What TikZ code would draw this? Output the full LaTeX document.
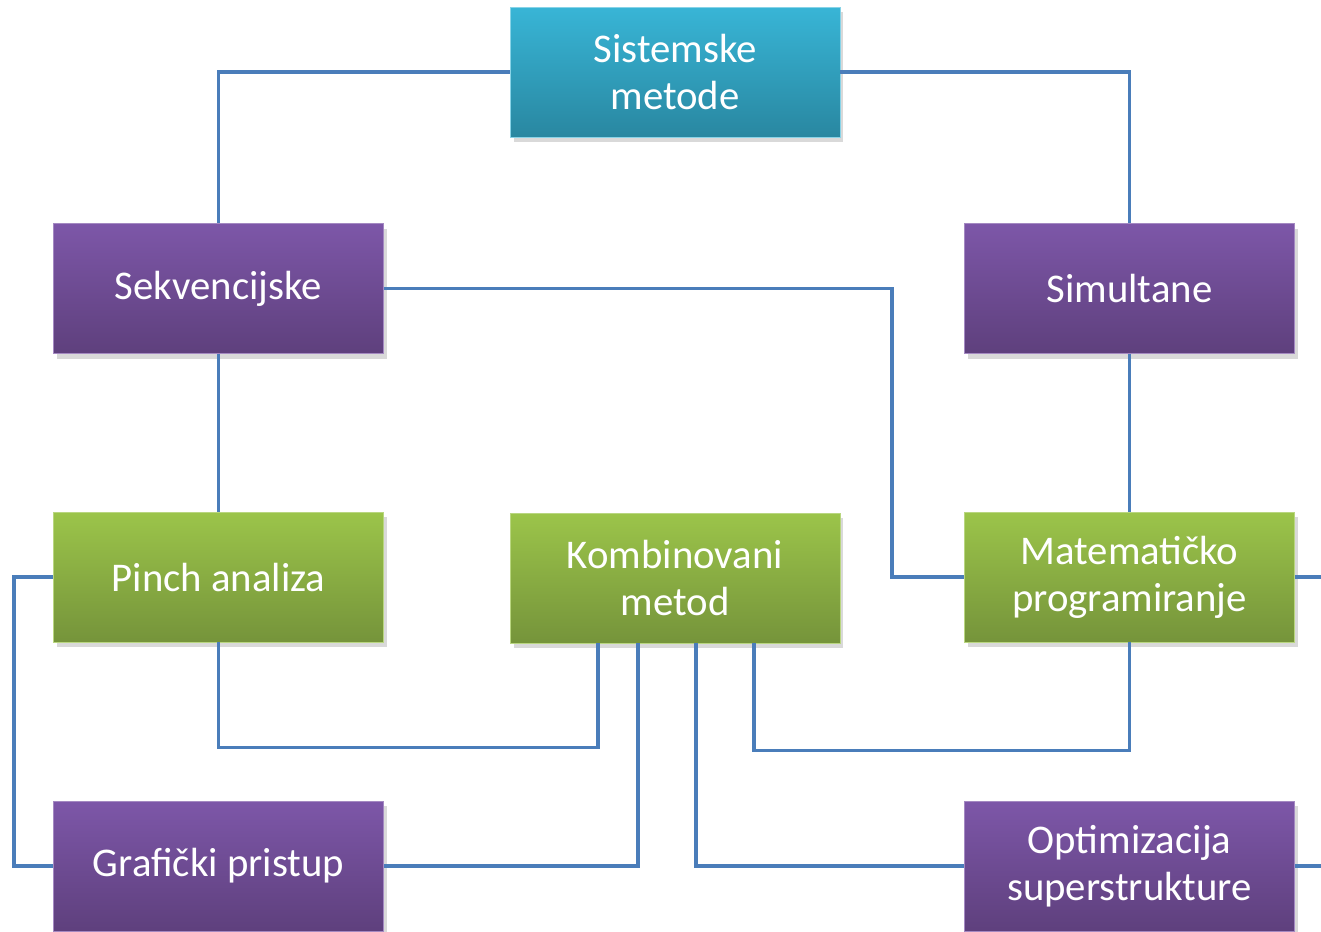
\documentclass[tikz,border=0pt]{standalone}
\usepackage{fontspec}
\setmainfont{Carlito}
\usetikzlibrary{shadows,calc}
\definecolor{cyantop}{rgb}{0.22,0.71,0.84}
\definecolor{cyanbot}{rgb}{0.16,0.53,0.63}
\definecolor{purtop}{rgb}{0.49,0.34,0.66}
\definecolor{purbot}{rgb}{0.37,0.25,0.49}
\definecolor{grntop}{rgb}{0.61,0.77,0.29}
\definecolor{grnbot}{rgb}{0.46,0.58,0.23}
\definecolor{linkblue}{rgb}{0.29,0.49,0.73}
\tikzset{
	box/.style={rectangle, minimum width=6.6cm, minimum height=2.6cm, align=center, text=white,
		font=\fontsize{23.2}{26.7}\selectfont, line width=0.5pt,
		drop shadow={shadow xshift=2pt, shadow yshift=-3pt, opacity=0.3}},
	sysbox/.style={box, top color=cyantop, bottom color=cyanbot, draw=cyantop!60!white},
	purbox/.style={box, top color=purtop, bottom color=purbot, draw=purtop!70!white},
	grnbox/.style={box, top color=grntop, bottom color=grnbot, draw=grntop!70!white},
	link/.style={draw=linkblue, line width=1.9pt}
}
\begin{document}
\begin{tikzpicture}[x=0.02cm, y=-0.02cm]
			\useasboundingbox (0,0) rectangle (1321,932);
			\clip (0,0) rectangle (1321,932);
			\node [sysbox] (sis) at (675,72) {Sistemske\\metode};
			\node [purbox] (sek) at (218.5,288.5) {Sekvencijske};
			\node [purbox] (sim) at (1129.5,288.5) {Simultane};
			\node [grnbox] (pin) at (218.5,577) {Pinch analiza};
			\node [grnbox] (kom) at (675,578) {Kombinovani\\metod};
			\node [grnbox] (mat) at (1129.5,577) {Matematičko\\programiranje};
			\node [purbox] (gra) at (218.5,866) {Grafički pristup};
			\node [purbox] (opt) at (1129.5,866) {Optimizacija\\superstrukture};
			\coordinate (sekbend) at (892,288.5);
			\coordinate (k1) at ($(kom.south)+(-77,0)$);
			\coordinate (k2) at ($(kom.south)+(-37,0)$);
			\coordinate (k3) at ($(kom.south)+(21,0)$);
			\coordinate (k4) at ($(kom.south)+(79,0)$);
			\draw [link] (sis.west) -| (sek.north);
			\draw [link] (sis.east) -| (sim.north);
			\draw [link] (sek.east) -- (sekbend) |- (mat.west);
			\draw [link] (sek.south) -- (pin.north);
			\draw [link] (sim.south) -- (mat.north);
			\draw [link] (pin.west) -- ++(-39,0) |- (gra.west);
			\draw [link] (pin.south) -- ++(0,105) -| (k1);
			\draw [link] (k2) |- (gra.east);
			\draw [link] (k3) |- (opt.west);
			\draw [link] (k4) -- ++(0,107) -| (mat.south);
			\draw [link] (mat.east) -- ++(40,0);
			\draw [link] (opt.east) -- ++(40,0);
\end{tikzpicture}
\end{document}
